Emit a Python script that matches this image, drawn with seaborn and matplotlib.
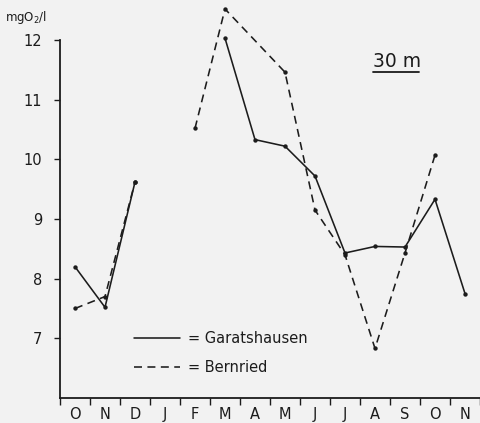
import numpy as np
import pandas as pd
import matplotlib
matplotlib.use("Agg")
import matplotlib.pyplot as plt
import seaborn as sns

# Monthly oxygen readings at 30 m depth, October to November of the following year
months = ["O", "N", "D", "J", "F", "M", "A", "M", "J", "J", "A", "S", "O", "N"]
garatshausen = [8.2, 7.52, 9.62, np.nan, np.nan, 12.03, 10.33, 10.22, 9.72, 8.43, 8.54, 8.53, 9.33, 7.75]
bernried = [7.5, 7.70, 9.62, np.nan, 10.52, 12.52, np.nan, 11.46, 9.15, 8.40, 6.83, 8.43, 10.07, np.nan]
# the curves are interrupted over the winter month
segment = [0, 0, 0, 1, 1, 1, 1, 1, 1, 1, 1, 1, 1, 1]
y_ticks = [7, 8, 9, 10, 11, 12]

sns.set_theme(style="ticks")
plt.rcParams["font.family"] = ["DejaVu Sans"]

ink = "#1c1c1c"
bg = "#f2f2f2"

W, H = 481, 423
fig = plt.figure(figsize=(W / 100, H / 100), dpi=100, facecolor=bg)
ax = fig.add_axes([60 / W, (H - 398) / H, 420 / W, 398 / H], facecolor=bg)

x_pos = np.arange(len(months)) + 0.5
frames = []
for name, vals in (("Garatshausen", garatshausen), ("Bernried", bernried)):
    frames.append(pd.DataFrame({"x": x_pos, "O2": vals, "station": name, "seg": segment}))
df = pd.concat(frames, ignore_index=True).dropna()

styles = {"Garatshausen": "", "Bernried": (5, 3.4)}
for (name, seg), sub in df.groupby(["station", "seg"]):
    sns.lineplot(data=sub, x="x", y="O2", ax=ax, color=ink, linewidth=1.15,
                 dashes=False, estimator=None, sort=False, legend=False)
    line = ax.lines[-1]
    if styles[name]:
        line.set_dashes(styles[name])
sns.scatterplot(data=df, x="x", y="O2", ax=ax, color=ink, s=10, linewidth=0,
                legend=False, zorder=5)

ax.set_xlim(0, len(months))
ax.set_ylim(6.0, 12.67)
ax.set_xlabel("")
ax.set_ylabel("")

# month boundaries as ticks, month initials centred in between
ax.set_xticks(np.arange(len(months) + 1))
ax.set_xticklabels([])
ax.set_xticks(x_pos, minor=True)
ax.set_xticklabels(months, minor=True, fontsize=10.5, color=ink)
ax.tick_params(axis="x", which="major", direction="out", length=5, width=1.0, color=ink)
ax.tick_params(axis="x", which="minor", length=0, pad=6.5)

ax.set_yticks(y_ticks)
ax.set_yticklabels([str(v) for v in y_ticks], fontsize=10.5, color=ink)
ax.tick_params(axis="y", direction="out", length=4.3, width=1.0, color=ink, pad=8.5)

for side in ("top", "right"):
    ax.spines[side].set_visible(False)
ax.spines["left"].set_bounds(6.0, 12.0)
ax.spines["left"].set_color(ink)
ax.spines["left"].set_linewidth(1.3)
ax.spines["bottom"].set_color(ink)
ax.spines["bottom"].set_linewidth(1.3)

# unit label
fig.text(5 / W, 1 - 17 / H, "mgO$_2$/l", fontsize=8.5, color=ink, ha="left", va="center")

# depth label with underline
fig.text(373 / W, 1 - 67 / H, "30 m", fontsize=13.5, color=ink, ha="left", va="baseline")
fig.add_artist(plt.Line2D([373 / W, 419 / W], [1 - 72 / H, 1 - 72 / H], color=ink, lw=1.3))

# key
key_rows = [("Garatshausen", "-", 338), ("Bernried", (0, (5, 3.4)), 367)]
for name, ls, ypx in key_rows:
    fig.add_artist(plt.Line2D([134 / W, 180 / W], [1 - ypx / H, 1 - ypx / H],
                              color=ink, lw=1.15, linestyle=ls))
    fig.text(188 / W, 1 - ypx / H, "= " + name, fontsize=10.5, color=ink,
             ha="left", va="center")

fig.savefig("out.png", dpi=100, facecolor=bg)
